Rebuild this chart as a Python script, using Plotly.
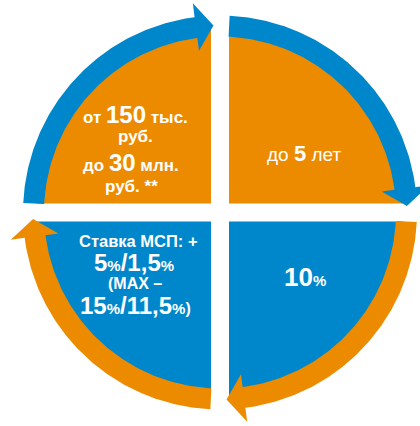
import numpy as np
import plotly.graph_objects as go

# ---------------- data ----------------
segments = ["до 5 лет", "10%", "Ставка МСП", "сумма"]
shares = [1, 1, 1, 1]
seg_colors = ["#EC8B00", "#0086CB", "#0086CB", "#EC8B00"]
arrow_colors = ["#0086CB", "#EC8B00", "#EC8B00", "#0086CB"]

BIG = '<span style="font-size:24px">{}</span>'
PCT = '<span style="font-size:15px">%</span>'
label_lines = [
    ['до <b><span style="font-size:22px">5</span></b> лет'],
    ['<b><span style="font-size:26px">10</span>' + PCT + '</b>'],
    ['<b>Ставка МСП: +</b>',
     '<b>' + BIG.format('5') + PCT + BIG.format('/1,5') + PCT + '</b>',
     '<b>(MAX –</b>',
     '<b>' + BIG.format('15') + PCT + BIG.format('/11,5') + PCT + ')</b>'],
    ['<b>от ' + BIG.format('150') + ' тыс.</b>',
     '<b>руб.</b>',
     '<b>до ' + BIG.format('30') + ' млн.</b>',
     '<b>руб. **</b>'],
]

# ---------------- geometry / style ----------------
W, H = 420, 426
CX, CY = 220, 212.5          # centre in pixels (from top-left)
R = 183                      # sector radius
GAP = 18                     # white cross gap
BAND_IN, BAND_OUT = 176, 197
HEAD_IN, HEAD_OUT = 163, 211
TIP_R = 187
TAIL_OFF, BASE_OFF, TIP_OFF = 2.8, 82.6, 88.0
FONT = "Liberation Sans, Arial, sans-serif"

# label positions (pixel centre x, pixel centre y) and base font sizes
label_pos = [
    [(303.5, 153, 19)],
    [(305, 276.5, 16)],
    [(138, 240.5, 16.5), (134, 262.5, 16), (135, 283, 16), (135, 305.5, 16)],
    [(135, 114, 17), (135, 136.5, 17), (131, 162.5, 17), (131.7, 186.5, 17)],
]

fig = go.Figure()

total = sum(shares)
cum = np.concatenate([[0], np.cumsum(shares)])
starts = 90 - 360 * cum[:-1] / total
ends = 90 - 360 * cum[1:] / total


def pol(r, th):
    t = np.radians(th)
    return r * np.cos(t), r * np.sin(t)


# sectors
for s, e, col in zip(starts, ends, seg_colors):
    d = np.degrees(np.arcsin((GAP / 2) / R))
    th = np.linspace(s - d, e + d, 120)
    ax, ay = pol(R, th)
    half = np.radians((s - e) / 2)
    m = (s + e) / 2
    cxp, cyp = pol((GAP / 2) / np.sin(half), m)
    xs = np.concatenate([[cxp], ax, [cxp]])
    ys = np.concatenate([[cyp], ay, [cyp]])
    fig.add_trace(go.Scatter(x=xs, y=ys, mode="lines", line=dict(width=0),
                             fill="toself", fillcolor=col, hoverinfo="skip"))

# arrows
for s, col in zip(starts, arrow_colors):
    t0, tb, tt = s - TAIL_OFF, s - BASE_OFF, s - TIP_OFF
    th = np.linspace(t0, tb, 120)
    ox, oy = pol(BAND_OUT, th)
    ix, iy = pol(BAND_IN, th[::-1])
    hox, hoy = pol(HEAD_OUT, tb)
    tx, ty = pol(TIP_R, tt)
    hix, hiy = pol(HEAD_IN, tb)
    xs = np.concatenate([ox, [hox, tx, hix], ix, [ox[0]]])
    ys = np.concatenate([oy, [hoy, ty, hiy], iy, [oy[0]]])
    fig.add_trace(go.Scatter(x=xs, y=ys, mode="lines", line=dict(width=0),
                             fill="toself", fillcolor=col, hoverinfo="skip"))

# labels
for lines, poss in zip(label_lines, label_pos):
    for txt, (px, py, fs) in zip(lines, poss):
        fig.add_annotation(x=px - CX, y=CY - py, xref="x", yref="y", text=txt,
                           showarrow=False, xanchor="center", yanchor="middle",
                           font=dict(family=FONT, size=fs, color="white"))

fig.update_xaxes(range=[-CX, W - CX], visible=False, fixedrange=True)
fig.update_yaxes(range=[-(H - CY), CY], visible=False, fixedrange=True)
fig.update_layout(width=W, height=H, margin=dict(l=0, r=0, t=0, b=0),
                  paper_bgcolor="white", plot_bgcolor="white", showlegend=False)

fig.write_html("out.html",
               config={"displayModeBar": False, "staticPlot": True},
               post_script="document.body.style.margin='0';"
                           "document.body.style.overflow='hidden';")
